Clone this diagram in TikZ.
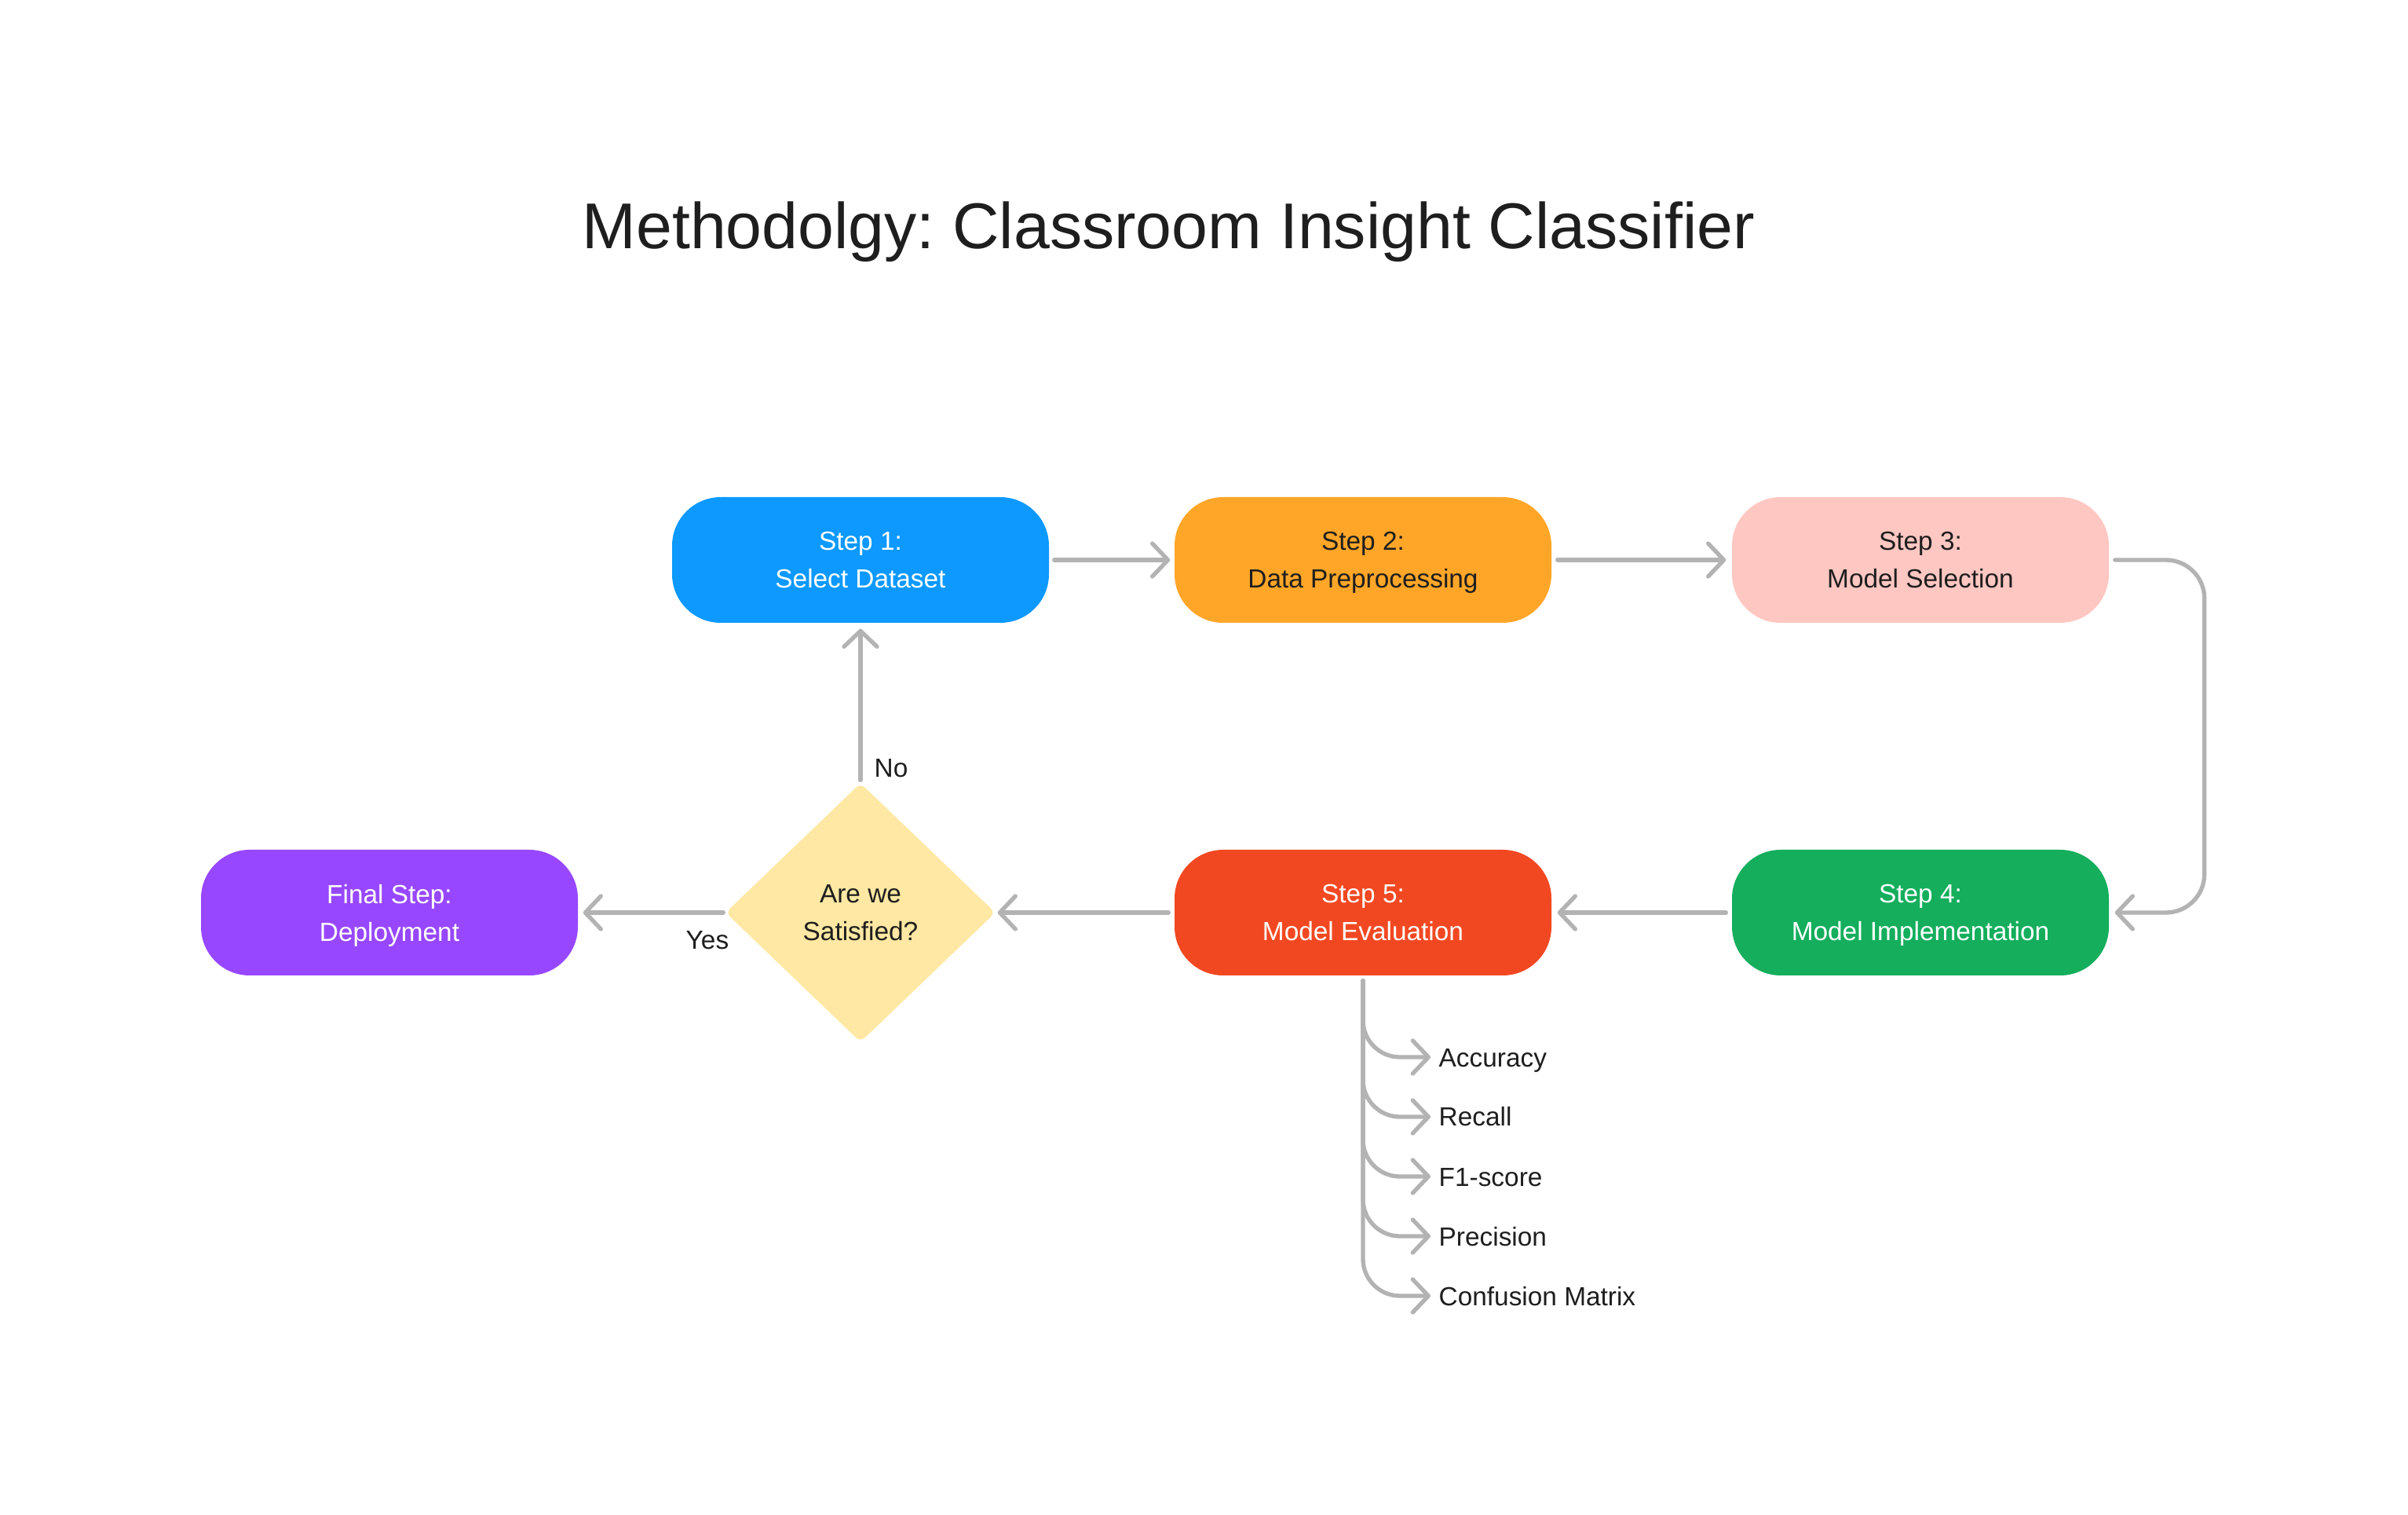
\documentclass[tikz,border=0pt]{standalone}
\usepackage{fontspec}
\setmainfont{Liberation Sans}
\usetikzlibrary{arrows.meta,shapes.geometric}
\definecolor{cblue}{HTML}{0D99FF}
\definecolor{corange}{HTML}{FFA629}
\definecolor{cpink}{HTML}{FFC7C2}
\definecolor{cgreen}{HTML}{14AE5C}
\definecolor{cred}{HTML}{F24822}
\definecolor{cpurple}{HTML}{9747FF}
\definecolor{cyellow}{HTML}{FFE8A3}
\definecolor{cgray}{HTML}{B3B3B3}
\definecolor{ctext}{HTML}{1E1E1E}
\begin{document}
\frenchspacing
\begin{tikzpicture}[x=1cm,y=1cm,
  stepbox/.style={rectangle, rounded corners=0.62cm, minimum width=4.8cm, minimum height=1.6cm,
    inner sep=0pt, align=center, font=\fontsize{9.5}{13.66}\selectfont},
  decision/.style={diamond, minimum width=3.44cm, minimum height=3.30cm, inner sep=0pt,
    rounded corners=0.08cm, align=center, font=\fontsize{9.5}{13.66}\selectfont, fill=cyellow, text=ctext},
  lbl/.style={inner sep=0pt, font=\fontsize{9.5}{11.4}\selectfont, text=ctext},
  conn/.style={draw=cgray, line width=0.053cm, line cap=round, line join=round,
    -{Straight Barb[length=0.2cm,width=0.42cm,round]}}]
\useasboundingbox (0,0) rectangle (30.67,-19.29);
\fill[white] (0,0) rectangle (30.67,-19.29);

\node[anchor=base west, inner sep=0pt, font=\fontsize{23.45}{28}\selectfont, text=ctext] (title)
  at (7.41,-3.17) {Methodolgy: Classroom Insight Classifier};

\node[stepbox, fill=cblue, text=white] (s1) at (10.96,-7.13) {Step 1:\\\smash{Select Dataset}};
\node[stepbox, fill=corange, text=ctext] (s2) at (17.36,-7.13) {Step 2:\\\smash{Data Preprocessing}};
\node[stepbox, fill=cpink, text=ctext] (s3) at (24.46,-7.13) {Step 3:\\\smash{Model Selection}};
\node[stepbox, fill=cgreen, text=white] (s4) at (24.46,-11.62) {Step 4:\\\smash{Model Implementation}};
\node[stepbox, fill=cred, text=white] (s5) at (17.36,-11.62) {Step 5:\\\smash{Model Evaluation}};
\node[decision] (dia) at (10.96,-11.62) {Are we\\\smash{Satisfied?}};
\node[stepbox, fill=cpurple, text=white] (fin) at (4.96,-11.62) {Final Step:\\\smash{Deployment}};

\draw[conn] ([xshift=0.06cm]s1.east) -- ([xshift=-0.05cm]s2.west);
\draw[conn] ([xshift=0.07cm]s2.east) -- ([xshift=-0.07cm]s3.west);
\draw[conn, rounded corners=0.49cm] ([xshift=0.07cm]s3.east) -- ++(1.14,0) |- ([xshift=0.07cm]s4.east);
\draw[conn] ([xshift=-0.07cm]s4.west) -- ([xshift=0.07cm]s5.east);
\draw[conn] ([xshift=-0.07cm]s5.west) -- ([xshift=0.02cm]dia.east);
\draw[conn] ([xshift=-0.02cm]dia.west) -- ([xshift=0.06cm]fin.east);
\draw[conn] ([yshift=0.03cm]dia.north) -- ([yshift=-0.07cm]s1.south);

\node[lbl, anchor=base west] (no) at (11.13,-9.90) {No};
\node[lbl, anchor=base west] (yes) at (8.73,-12.09) {Yes};

\foreach \i/\y/\t in {1/13.46/Accuracy, 2/14.22/Recall, 3/14.98/F1-score, 4/15.74/Precision, 5/16.50/Confusion Matrix}{
  \coordinate (t\i) at (18.22,-\y);
  \node[lbl, anchor=base west] (m\i) at (18.32,-\y-0.12) {\t};
  \draw[conn, rounded corners=0.47cm] ([yshift=-0.06cm]s5.south) |- (t\i);
}
\end{tikzpicture}
\end{document}
